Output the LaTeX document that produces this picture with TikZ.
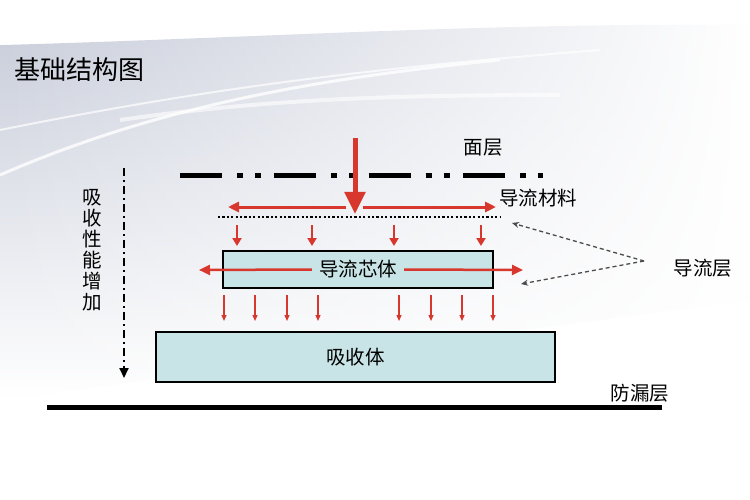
\documentclass[tikz,border=0pt]{standalone}
\usepackage{fontspec}
\setmainfont{Noto Sans CJK SC}
\usetikzlibrary{arrows.meta,fadings}
\definecolor{flowred}{RGB}{215,55,45}
\definecolor{boxfill}{RGB}{200,228,230}
\definecolor{bgblue}{RGB}{200,205,218}
\tikzset{
  lbl/.style={inner sep=0pt,font=\fontsize{19.5}{21}\selectfont},
  layerbox/.style={draw=black,line width=1.3pt,fill=boxfill,inner sep=0pt,font=\fontsize{19.5}{21}\selectfont},
  bigarrow/.style={flowred,line width=5pt,-{Triangle[length=22pt,width=20pt]}},
  harrow/.style={flowred,line width=3pt,-{Triangle[length=11pt,width=10pt]}},
  darrow/.style={flowred,line width=2.5pt,-{Triangle[length=8pt,width=9pt]}},
  thinarrow/.style={flowred,line width=1.2pt,-{Triangle[length=6pt,width=5pt]}},
  ptr/.style={black!70,line width=1.3pt,dash pattern=on 4pt off 3pt,-{Stealth[length=7pt,width=6pt]}}
}
\begin{document}
\begin{tikzpicture}[x=1pt,y=-1pt]
\useasboundingbox (0,0) rectangle (750,500);
\fill[white] (0,0) rectangle (750,500);
% background swoosh
\shade[top color=bgblue,bottom color=white,path fading=east] (0,45) .. controls (250,38) and (500,22) .. (750,25) -- (750,300) -- (0,400) -- cycle;
\draw[white,line width=3pt,opacity=0.8] (0,175) .. controls (150,110) and (300,80) .. (500,60);
\draw[white,line width=2pt,opacity=0.7] (0,130) .. controls (200,90) and (350,70) .. (600,50);
\draw[white,line width=4pt,opacity=0.6] (120,120) .. controls (260,100) and (380,95) .. (560,95);
% title
\node[inner sep=0pt,anchor=west,font=\fontsize{26}{28}\selectfont] (title) at (14,70) {基础结构图};
% top layer
\coordinate (fa) at (180,176);
\coordinate (fb) at (543,176);
\draw[line width=5pt,dash pattern=on 42pt off 15pt on 6pt off 12pt on 6pt off 13.3pt] (fa) -- (fb);
\node[lbl] (mianceng) at (483,148) {面层};
% big arrow
\coordinate (ba1) at (355,138);
\coordinate (ba2) at (355,214);
\draw[bigarrow] (ba1) -- (ba2);
\coordinate (hl1) at (346,207);
\coordinate (hl2) at (228,207);
\coordinate (hr1) at (363,207);
\coordinate (hr2) at (496,207);
\draw[harrow] (hl1) -- (hl2);
\draw[harrow] (hr1) -- (hr2);
\node[lbl,anchor=west] (daoliucailiao) at (499,198) {导流材料};
% dotted line
\coordinate (da) at (218,217);
\coordinate (db) at (500,217);
\draw[line width=2.2pt,dash pattern=on 2.2pt off 2.2pt] (da) -- (db);
% small down arrows row 1
\foreach \x [count=\i] in {237,312,394,481}{
  \coordinate (r1a\i) at (\x,225);
  \coordinate (r1b\i) at (\x,246);
  \draw[darrow] (r1a\i) -- (r1b\i);
}
% core box
\node[layerbox,minimum width=270pt,minimum height=37pt] (core) at (358,269.5) {};
\node[lbl,fill=boxfill,inner xsep=7pt,inner ysep=3pt] (coretxt) at (core.center) {导流芯体};
\coordinate (cl2) at (199,270);
\coordinate (cr2) at (523,270);
\draw[harrow,line width=2.5pt] (coretxt.west) -- (cl2);
\draw[harrow,line width=2.5pt] (coretxt.east) -- (cr2);
% thin down arrows row 2
\foreach \x [count=\i] in {224,255,287,318,399,431,462,493}{
  \coordinate (r2a\i) at (\x,295);
  \coordinate (r2b\i) at (\x,321);
  \draw[thinarrow] (r2a\i) -- (r2b\i);
}
% absorber
\node[layerbox,minimum width=399pt,minimum height=50pt] (absorb) at (355.5,357) {吸收体};
% bottom layer
\coordinate (la) at (47,407);
\coordinate (lb) at (662,407);
\draw[line width=5pt] (la) -- (lb);
\node[lbl] (fanglou) at (640,393) {防漏层};
% vertical arrow
\coordinate (va1) at (124,168);
\coordinate (va2) at (124,378);
\draw[line width=1.8pt,dash pattern=on 8pt off 4pt on 2pt off 4pt,-{Triangle[length=10pt,width=9pt]}] (va1) -- (va2);
\node[inner sep=0pt,align=center,font=\fontsize{19.5}{21}\selectfont] (vtext) at (92,250) {吸\\收\\性\\能\\增\\加};
% guide layer label
\node[lbl] (daoliuceng) at (703,268) {导流层};
\coordinate (p0) at (644,261);
\coordinate (p1) at (512,223);
\coordinate (p2) at (521,284);
\draw[ptr] (p0) -- (p1);
\draw[ptr] (p0) -- (p2);
\end{tikzpicture}
\end{document}
